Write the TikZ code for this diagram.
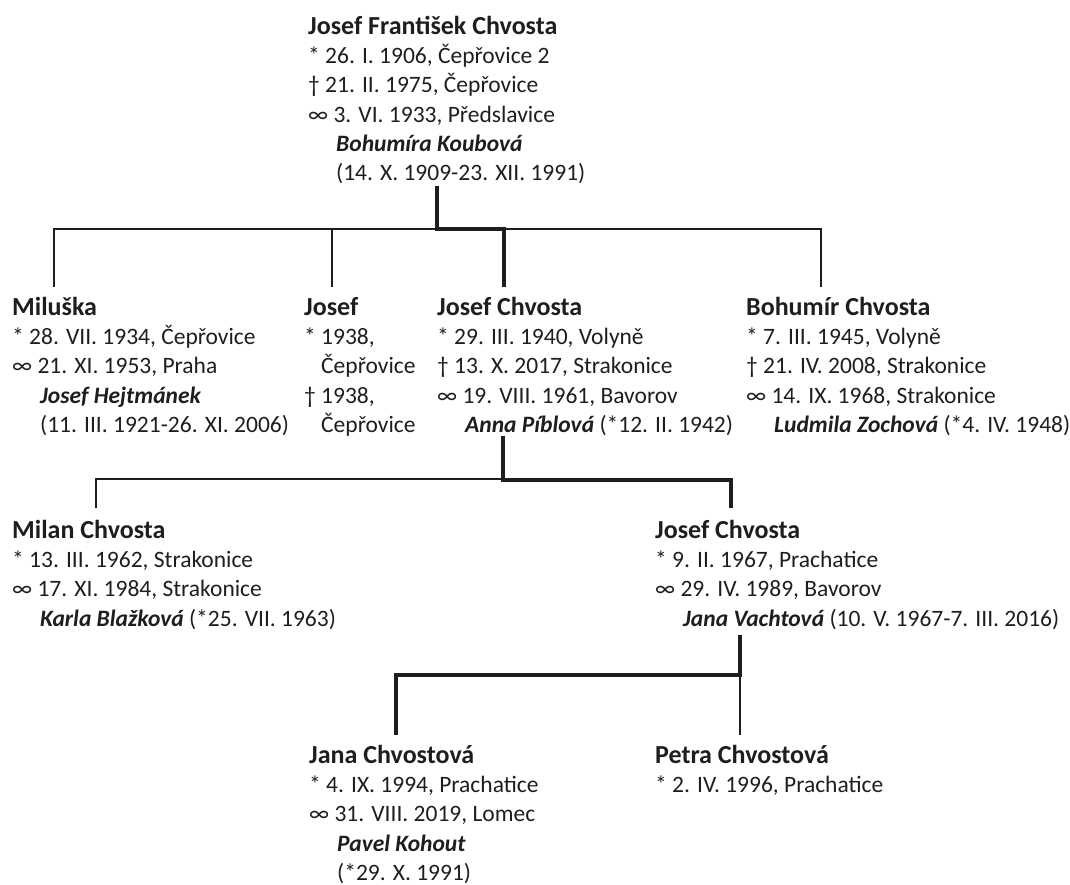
\documentclass[tikz,border=0pt]{standalone}
\usepackage{fontspec}
\setmainfont{Carlito}
\usetikzlibrary{calc}

\definecolor{ink}{HTML}{1E1E1E}

\tikzset{
  person/.style={anchor=north west,inner sep=0pt,align=left,text=ink,
    font=\fontsize{23.5}{29.3}\selectfont},
  line/.style={draw=ink,line width=1.4pt},
  blood/.style={draw=ink,line width=4.6pt},
}
\newcommand{\who}[1]{{\bfseries\fontsize{26}{29.3}\selectfont\rule{0pt}{24pt}#1}}
\newcommand{\spouse}[1]{\hspace*{28pt}\textbf{\textit{#1}}}
\newcommand{\cont}{\hspace*{28pt}}

\begin{document}
\begin{tikzpicture}[x=1pt,y=-1pt]
\useasboundingbox (0,0) rectangle (1070,884);

% generation 1
\node[person] (root) at (308,10) {\who{Josef František Chvosta}\\
  * 26. I. 1906, Čepřovice 2\\
  † 21. II. 1975, Čepřovice\\
  ∞ 3. VI. 1933, Předslavice\\
  \spouse{Bohumíra Koubová}\\
  \cont(14. X. 1909-23. XII. 1991)};

% generation 2
\node[person] (milu) at (12,291) {\who{Miluška}\\
  * 28. VII. 1934, Čepřovice\\
  ∞ 21. XI. 1953, Praha\\
  \spouse{Josef Hejtmánek}\\
  \cont(11. III. 1921-26. XI. 2006)};
\node[person] (josef) at (304,291) {\who{Josef}\\
  * 1938,\\
  \hphantom{* }Čepřovice\\
  † 1938,\\
  \hphantom{* }Čepřovice};
\node[person] (jch) at (437,291) {\who{Josef Chvosta}\\
  * 29. III. 1940, Volyně\\
  † 13. X. 2017, Strakonice\\
  ∞ 19. VIII. 1961, Bavorov\\
  \spouse{Anna Píblová} (*12. II. 1942)};
\node[person] (bch) at (746,291) {\who{Bohumír Chvosta}\\
  * 7. III. 1945, Volyně\\
  † 21. IV. 2008, Strakonice\\
  ∞ 14. IX. 1968, Strakonice\\
  \spouse{Ludmila Zochová} (*4. IV. 1948)};

% generation 3
\node[person] (mch) at (12,514) {\who{Milan Chvosta}\\
  * 13. III. 1962, Strakonice\\
  ∞ 17. XI. 1984, Strakonice\\
  \spouse{Karla Blažková} (*25. VII. 1963)};
\node[person] (jch2) at (655,514) {\who{Josef Chvosta}\\
  * 9. II. 1967, Prachatice\\
  ∞ 29. IV. 1989, Bavorov\\
  \spouse{Jana Vachtová} (10. V. 1967-7. III. 2016)};

% generation 4
\node[person] (jana) at (309,739) {\who{Jana Chvostová}\\
  * 4. IX. 1994, Prachatice\\
  ∞ 31. VIII. 2019, Lomec\\
  \spouse{Pavel Kohout}\\
  \cont(*29. X. 1991)};
\node[person] (petra) at (655,739) {\who{Petra Chvostová}\\
  * 2. IV. 1996, Prachatice};

% thin lines
\draw[line] ([xshift=42pt,yshift=4pt]milu.north west) |- ([xshift=75pt,yshift=62pt]bch.north west)
  -- ([xshift=75pt,yshift=4pt]bch.north west);
\draw[line] ([xshift=28pt,yshift=4pt]josef.north west) -- ++(0,-58);
\draw[line] ([xshift=84pt,yshift=6pt]mch.north west) -- ++(0,-29) -- ++(408,0);
\draw[line] ([xshift=85pt,yshift=64pt]petra.north west) -- ([xshift=85pt,yshift=4pt]petra.north west);

% thick lines (direct line)
\draw[blood] ([xshift=129pt,yshift=-2pt]root.south west) |- ([xshift=67pt,yshift=62pt]jch.north west)
  -- ([xshift=67pt,yshift=4pt]jch.north west);
\draw[blood] ([xshift=66pt]jch.south west) |- ([xshift=76pt,yshift=34pt]jch2.north west)
  -- ([xshift=76pt,yshift=6pt]jch2.north west);
\draw[blood] ([xshift=85pt,yshift=-5pt]jch2.south west) |- ([xshift=87pt,yshift=64pt]jana.north west)
  -- ([xshift=87pt,yshift=4pt]jana.north west);
\end{tikzpicture}
\end{document}
